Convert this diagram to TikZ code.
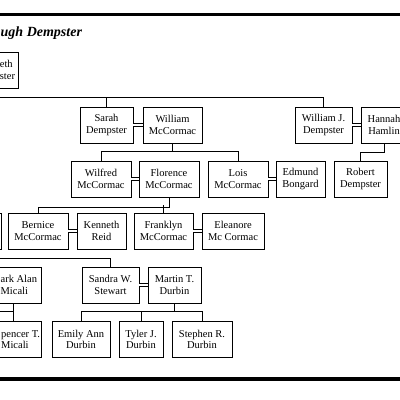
\documentclass[tikz,border=0pt]{standalone}
\usepackage{fontspec}
\setmainfont{Liberation Serif}
\usetikzlibrary{calc}

\begin{document}
\begin{tikzpicture}[x=1pt, y=-1pt,
    person/.style={draw, line width=0.9pt, minimum height=36, align=center, inner sep=2pt,
        font=\fontsize{10.5}{11.5}\selectfont},
    link/.style={line width=0.9pt},
    marriage/.style={line width=0.8pt, double, double distance=2.6pt}]
        \useasboundingbox (0,0) rectangle (400,400);

        % Frame and title
        \draw[line width=3pt] (0,14) -- (400,14);
        \draw[line width=3.2pt] (0,379) -- (400,379);
        \draw (0.5,36) node[anchor=base west, inner sep=0pt, font=\fontsize{14}{16}\selectfont\bfseries\itshape] (title) {ugh Dempster};

        % Nodes
        \draw (19,70)      node[person, anchor=east, align=left, inner xsep=3.5pt] (eth) {eth\\ster};
        \draw (106.5,125)  node[person, minimum width=53] (sarah) {Sarah\\Dempster};
        \draw (172.5,125)  node[person, minimum width=59] (william) {William\\McCormac};
        \draw (323.5,125)  node[person, minimum width=57] (wj) {William J.\\Dempster};
        \draw (384,125)    node[person, minimum width=46] (hannah) {Hannah\\Hamlin};

        \draw (101,179)    node[person, minimum width=60] (wilfred) {Wilfred\\McCormac};
        \draw (169,179)    node[person, minimum width=60] (florence) {Florence\\McCormac};
        \draw (238,179)    node[person, minimum width=60] (lois) {Lois\\McCormac};
        \draw (300.5,179)  node[person, minimum width=49] (edmund) {Edmund\\Bongard};
        \draw (360.5,179)  node[person, minimum width=53] (robert) {Robert\\Dempster};

        \draw (2,231)      node[person, anchor=east, minimum width=40] (cutl) {};
        \draw (38,231)     node[person, minimum width=60] (bernice) {Bernice\\McCormac};
        \draw (101.5,231)  node[person, minimum width=49] (kenneth) {Kenneth\\Reid};
        \draw (163.5,231)  node[person, minimum width=59] (franklyn) {Franklyn\\McCormac};
        \draw (233,231)    node[person, minimum width=62] (eleanore) {Eleanore\\Mc Cormac};

        \draw (42,285)     node[person, anchor=east, align=left, inner xsep=4.5pt] (mark) {ark Alan\\Micali};
        \draw (110.5,285)  node[person, minimum width=57] (sandra) {Sandra W.\\Stewart};
        \draw (174.5,285)  node[person, minimum width=53] (martin) {Martin T.\\Durbin};

        \draw (42,339.5)   node[person, anchor=east, align=left, inner xsep=1.5pt] (spencer) {pencer T.\\Micali};
        \draw (81,339.5)   node[person, minimum width=58] (emily) {Emily Ann\\Durbin};
        \draw (141,339.5)  node[person, minimum width=44] (tyler) {Tyler J.\\Durbin};
        \draw (202,339.5)  node[person, minimum width=60] (stephen) {Stephen R.\\Durbin};

        % Lines coming in from the left edge
        \coordinate (in1) at (0,97);
        \coordinate (in4) at (0,258);
        \coordinate (in5) at (0,311);
        \coordinate (j5) at (13,311);

        % Generation 1
        \draw[link] (in1) -| (wj.north);
        \draw[link] (sarah.north) -- (sarah.north |- in1);
        \draw[marriage] (sarah.east) -- (william.west);
        \draw[marriage] (wj.east) -- (hannah.west);

        % Generation 2
        \draw[link] (william.south) -- ++(0,9);
        \draw[link] (wilfred.north) -- ++(0,-9) -| (lois.north);
        \draw[link] (hannah.south) -- ++(0,9) -| (robert.north);
        \draw[marriage] (wilfred.east) -- (florence.west);
        \draw[marriage] (lois.east) -- (edmund.west);

        % Generation 3
        \draw[link] (florence.south) -- ++(0,10) -| (bernice.north);
        \draw[link] (franklyn.north) -- ++(0,-8);
        \draw[marriage] (bernice.east) -- (kenneth.west);
        \draw[marriage] (franklyn.east) -- (eleanore.west);

        % Generation 4
        \draw[link] (in4) -| (sandra.north);
        \draw[marriage] (sandra.east) -- (martin.west);
        \draw[link] (in5) -- (j5);
        \draw[link] (j5 |- mark.south) -- (j5 |- spencer.north);

        % Generation 5
        \draw[link] (martin.south) -- ++(0,9);
        \draw[link] (emily.north) -- ++(0,-10) -| (stephen.north);
        \draw[link] (tyler.north) -- ++(0,-10);
\end{tikzpicture}
\end{document}
